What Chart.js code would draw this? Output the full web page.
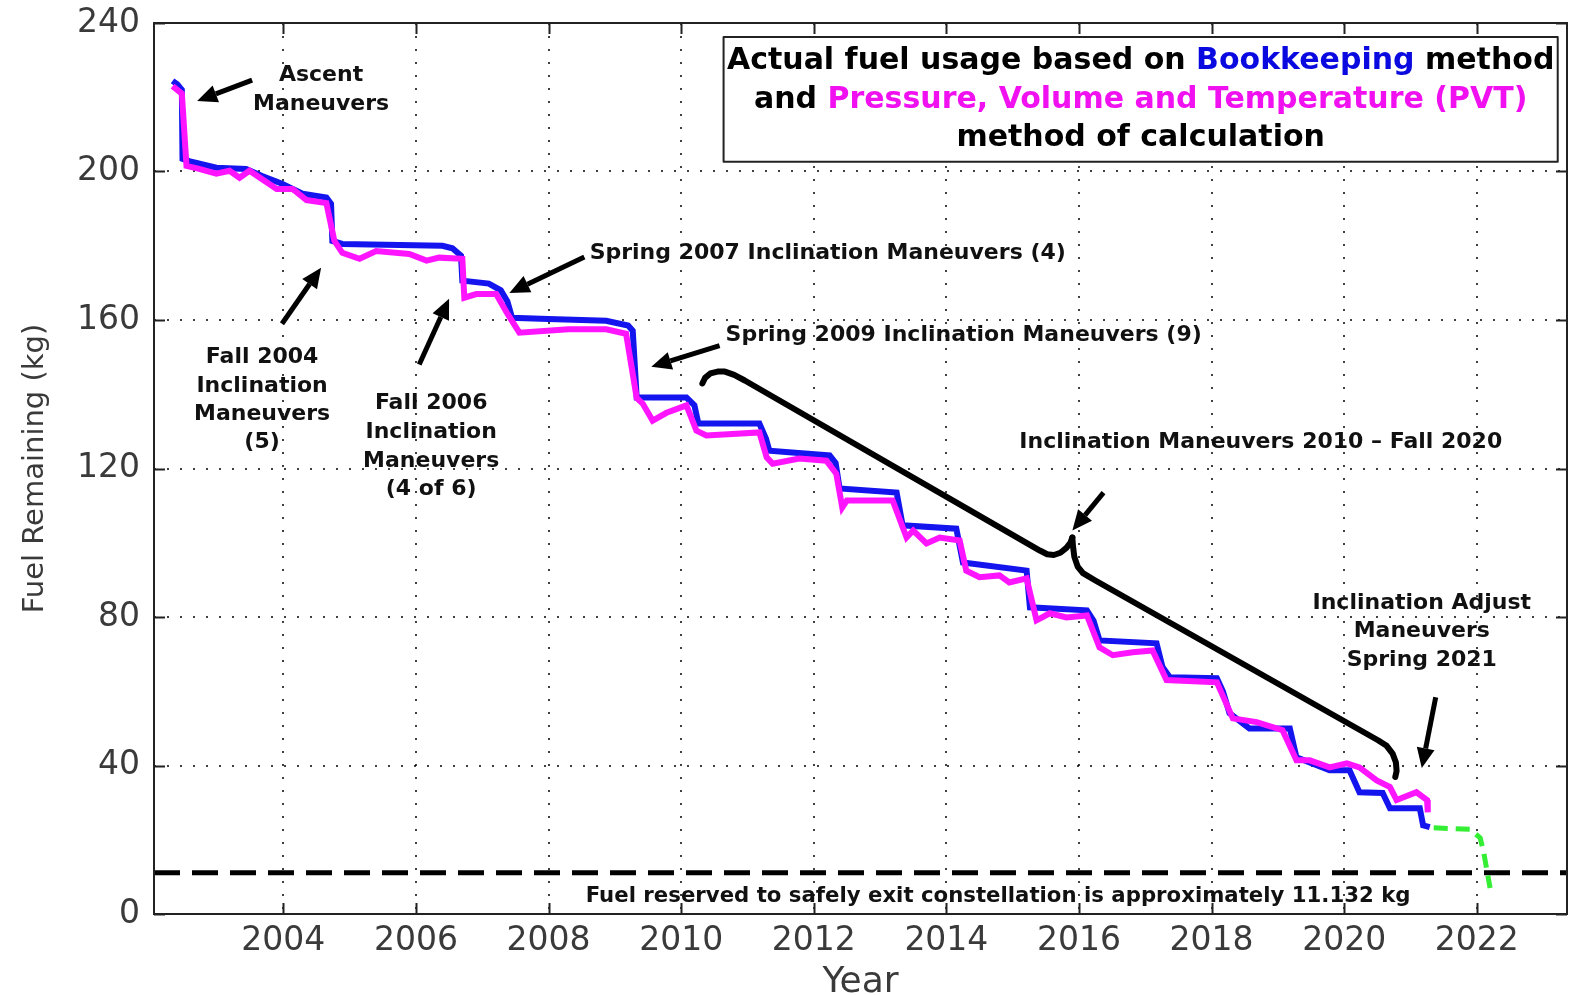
<!DOCTYPE html>
<html>
<head>
<meta charset="utf-8">
<script src="https://cdn.jsdelivr.net/npm/chart.js@4.4.0/dist/chart.umd.min.js"></script>
<style>
  html, body { margin: 0; padding: 0; background: #fff; }
  #wrap { width: 1570px; height: 995px; }
</style>
</head>
<body>
<div id="wrap"><canvas id="fuelChart" width="1570" height="995"></canvas></div>
<script>
// Bookkeeping method (blue)
const bkYear = [2002.33, 2002.40, 2002.47, 2002.48, 2002.58, 2002.99, 2003.44, 2003.68, 2003.98, 2004.29,
  2004.65, 2004.72, 2004.74, 2004.89, 2006.40, 2006.55, 2006.68, 2006.70, 2007.10, 2007.28,
  2007.38, 2007.45, 2008.00, 2008.87, 2009.20, 2009.27, 2009.33, 2010.08, 2010.20, 2010.26,
  2011.18, 2011.28, 2011.33, 2012.24, 2012.33, 2012.39, 2013.25, 2013.34, 2014.15, 2014.25,
  2015.21, 2015.26, 2016.12, 2016.22, 2016.31, 2017.17, 2017.26, 2017.37, 2018.08, 2018.17,
  2018.27, 2018.57, 2019.18, 2019.28, 2019.78, 2020.08, 2020.23, 2020.58, 2020.69, 2021.14,
  2021.19, 2021.29];
const bkFuel = [224.4, 223.5, 222.0, 203.4, 202.8, 201.0, 200.7, 198.8, 196.7, 194.0,
  193.0, 191.3, 181.3, 180.5, 180.0, 179.3, 177.3, 170.6, 169.8, 168.0,
  165.0, 160.6, 160.3, 159.8, 158.5, 157.1, 139.1, 139.1, 137.0, 132.1,
  132.1, 128.0, 124.8, 123.5, 121.5, 114.6, 113.5, 104.7, 103.8, 94.7,
  92.5, 82.6, 81.8, 79.0, 73.7, 72.9, 66.5, 63.8, 63.5, 60.0,
  54.1, 50.0, 50.0, 42.2, 38.7, 38.7, 32.8, 32.6, 28.5, 28.5,
  23.9, 23.4];

// Pressure, Volume and Temperature method (magenta)
const pvtYear = [2002.33, 2002.47, 2002.54, 2002.73, 2002.99, 2003.19, 2003.34, 2003.49, 2003.90, 2004.14,
  2004.35, 2004.65, 2004.77, 2004.89, 2005.15, 2005.40, 2005.90, 2006.16, 2006.35, 2006.70,
  2006.73, 2006.91, 2007.21, 2007.38, 2007.56, 2008.30, 2008.87, 2009.17, 2009.33, 2009.42,
  2009.57, 2009.78, 2010.08, 2010.23, 2010.38, 2011.18, 2011.29, 2011.38, 2011.78, 2012.19,
  2012.34, 2012.43, 2012.50, 2013.19, 2013.40, 2013.50, 2013.70, 2013.90, 2014.20, 2014.30,
  2014.50, 2014.80, 2014.95, 2015.21, 2015.36, 2015.56, 2015.81, 2016.12, 2016.31, 2016.51,
  2016.81, 2017.11, 2017.32, 2018.08, 2018.32, 2018.68, 2019.07, 2019.28, 2019.48, 2019.78,
  2020.04, 2020.23, 2020.49, 2020.69, 2020.79, 2021.09, 2021.25, 2021.26];
const pvtFuel = [223.0, 221.0, 201.5, 200.7, 199.4, 200.2, 198.3, 200.2, 195.3, 195.3,
  192.3, 191.5, 181.3, 178.1, 176.5, 178.6, 177.8, 176.0, 176.8, 176.5,
  166.0, 167.0, 167.0, 161.7, 156.6, 157.5, 157.5, 156.3, 139.0, 137.5,
  132.9, 135.0, 137.0, 130.2, 128.9, 129.7, 123.0, 121.3, 122.7, 122.1,
  118.6, 109.5, 111.4, 111.4, 101.4, 103.3, 99.8, 101.4, 100.6, 92.5,
  90.7, 91.2, 89.3, 90.4, 79.1, 81.0, 79.9, 80.4, 71.8, 69.7,
  70.5, 71.0, 63.0, 62.4, 52.7, 51.7, 49.5, 41.4, 41.4, 39.5,
  40.6, 39.5, 36.0, 34.2, 30.7, 32.8, 30.7, 27.4];

// Projected usage (green dashed)
const projYear = [2021.35, 2021.90, 2022.05, 2022.10, 2022.15, 2022.20];
const projFuel = [23.2, 22.8, 20.5, 17.0, 12.0, 7.0];

const reserveFuel = 11.132;
const xMin = 2002.05, xMax = 2023.36;
const xTicks = [2004, 2006, 2008, 2010, 2012, 2014, 2016, 2018, 2020, 2022];
const yTicks = [0, 40, 80, 120, 160, 200, 240];

// annotations, anchored in data units
const notes = [
  { lines: ['Ascent', 'Maneuvers'], x: 2004.57, y: 226.0, step: 29 },
  { lines: ['Spring 2007 Inclination Maneuvers (4)'], x: 2008.62, y: 178.1, align: 'left' },
  { lines: ['Spring 2009 Inclination Maneuvers (9)'], x: 2010.67, y: 156.0, align: 'left' },
  { lines: ['Fall 2004', 'Inclination', 'Maneuvers', '(5)'], x: 2003.68, y: 149.9, step: 28.3 },
  { lines: ['Fall 2006', 'Inclination', 'Maneuvers', '(4 of 6)'], x: 2006.23, y: 137.5, step: 28.7 },
  { lines: ['Inclination Maneuvers 2010 \u2013 Fall 2020'], x: 2015.10, y: 127.0, align: 'left' },
  { lines: ['Inclination Adjust', 'Maneuvers', 'Spring 2021'], x: 2021.17, y: 83.7, step: 28.5 }
];
const arrows = [
  [2003.53, 224.6, 2002.70, 219.0],
  [2008.54, 177.0, 2007.41, 167.3],
  [2010.58, 153.1, 2009.55, 147.4],
  [2003.98, 159.0, 2004.57, 174.1],
  [2006.05, 148.0, 2006.50, 165.7],
  [2016.37, 113.5, 2015.90, 103.3],
  [2021.38, 58.4, 2021.17, 39.3]
];
const braceUpper = [[2010.32, 142.9], [2010.36, 144.4], [2010.44, 145.6], [2010.55, 146.1], [2010.66, 146.1],
  [2010.80, 145.2], [2010.96, 143.7], [2015.41, 97.9], [2015.52, 96.9], [2015.62, 96.7], [2015.72, 97.3],
  [2015.81, 98.6], [2015.87, 100.0], [2015.90, 101.4]];
const braceLower = [[2015.90, 101.4], [2015.91, 99.0], [2015.93, 96.2], [2015.98, 93.6], [2016.06, 91.8],
  [2016.24, 89.9], [2020.51, 46.8], [2020.64, 45.3], [2020.73, 43.2], [2020.78, 40.8], [2020.79, 38.5], [2020.77, 36.9]];
const reserveNote = { text: 'Fuel reserved to safely exit constellation is approximately 11.132 kg', x1: 2008.56, x2: 2021.00, y: 4.8 };

const BLUE = '#1414ee';
const MAGENTA = '#ff14ff';
const GREEN = '#33ee33';

const legendBox = { x1: 2010.64, x2: 2023.22, y1: 236.2, y2: 202.6, cx: 2016.93 };
const legendLines = [
  { y: 229.8, parts: [['Actual fuel usage based on ', '#000'], ['Bookkeeping', '#0a0ae0'], [' method', '#000']] },
  { y: 219.3, parts: [['and ', '#000'], ['Pressure, Volume and Temperature (PVT)', '#f010f0']] },
  { y: 209.0, parts: [['method of calculation', '#000']] }
];

const toPoints = (xs, ys) => xs.map((v, i) => ({ x: v, y: ys[i] }));

function drawArrow(ctx, x1, y1, x2, y2) {
  const ang = Math.atan2(y2 - y1, x2 - x1);
  const headLen = 20, headW = 9;
  const bx = x2 - headLen * Math.cos(ang), by = y2 - headLen * Math.sin(ang);
  ctx.beginPath();
  ctx.moveTo(x1, y1);
  ctx.lineTo(bx, by);
  ctx.stroke();
  ctx.beginPath();
  ctx.moveTo(x2, y2);
  ctx.lineTo(bx + headW * Math.sin(ang), by - headW * Math.cos(ang));
  ctx.lineTo(bx - headW * Math.sin(ang), by + headW * Math.cos(ang));
  ctx.closePath();
  ctx.fill();
}

const annotationPlugin = {
  id: 'annotations',
  afterDraw(chart) {
    const { ctx, chartArea: a } = chart;
    const x = chart.scales.x, y = chart.scales.y;
    ctx.save();

    // frame with inward ticks (matlab style)
    ctx.strokeStyle = '#222';
    ctx.lineWidth = 2;
    ctx.strokeRect(a.left, a.top, a.right - a.left, a.bottom - a.top);
    ctx.beginPath();
    xTicks.forEach(v => {
      const px = Math.round(x.getPixelForValue(v)) + 0.5;
      ctx.moveTo(px, a.bottom); ctx.lineTo(px, a.bottom - 11);
      ctx.moveTo(px, a.top); ctx.lineTo(px, a.top + 11);
    });
    yTicks.forEach(v => {
      const py = Math.round(y.getPixelForValue(v)) + 0.5;
      ctx.moveTo(a.left, py); ctx.lineTo(a.left + 11, py);
      ctx.moveTo(a.right, py); ctx.lineTo(a.right - 11, py);
    });
    ctx.stroke();

    // curly brace
    ctx.strokeStyle = '#000';
    ctx.lineWidth = 6;
    ctx.lineJoin = 'round';
    ctx.lineCap = 'round';
    [braceUpper, braceLower].forEach(pts => {
      ctx.beginPath();
      pts.forEach((p, i) => {
        const px = x.getPixelForValue(p[0]), py = y.getPixelForValue(p[1]);
        if (i === 0) ctx.moveTo(px, py); else ctx.lineTo(px, py);
      });
      ctx.stroke();
    });

    // arrows
    ctx.lineWidth = 5;
    ctx.lineCap = 'butt';
    ctx.fillStyle = '#000';
    arrows.forEach(r => drawArrow(ctx,
      x.getPixelForValue(r[0]), y.getPixelForValue(r[1]),
      x.getPixelForValue(r[2]), y.getPixelForValue(r[3])));

    // text notes
    ctx.font = 'bold 22px "DejaVu Sans"';
    ctx.fillStyle = '#111';
    ctx.textBaseline = 'middle';
    notes.forEach(n => {
      ctx.textAlign = n.align || 'center';
      const px = x.getPixelForValue(n.x), py = y.getPixelForValue(n.y);
      n.lines.forEach((t, i) => ctx.fillText(t, px, py + i * (n.step || 0)));
    });

    // reserve note, squeezed to its span
    {
      const l = x.getPixelForValue(reserveNote.x1), r = x.getPixelForValue(reserveNote.x2);
      const py = y.getPixelForValue(reserveNote.y);
      ctx.font = 'bold 22px "DejaVu Sans"';
      const w = ctx.measureText(reserveNote.text).width;
      ctx.save();
      ctx.translate(l, py);
      ctx.scale((r - l) / w, 1);
      ctx.textAlign = 'left';
      ctx.fillText(reserveNote.text, 0, 0);
      ctx.restore();
    }

    // legend box
    const bl = x.getPixelForValue(legendBox.x1), br = x.getPixelForValue(legendBox.x2);
    const bt = y.getPixelForValue(legendBox.y1), bb = y.getPixelForValue(legendBox.y2);
    ctx.fillStyle = '#fff';
    ctx.fillRect(bl, bt, br - bl, bb - bt);
    ctx.strokeStyle = '#222';
    ctx.lineWidth = 2;
    ctx.strokeRect(bl, bt, br - bl, bb - bt);
    ctx.font = 'bold 30px "DejaVu Sans"';
    ctx.textAlign = 'left';
    const cx = x.getPixelForValue(legendBox.cx);
    legendLines.forEach(line => {
      const total = line.parts.reduce((s, p) => s + ctx.measureText(p[0]).width, 0);
      let px = cx - total / 2;
      const py = y.getPixelForValue(line.y);
      line.parts.forEach(p => {
        ctx.fillStyle = p[1];
        ctx.fillText(p[0], px, py);
        px += ctx.measureText(p[0]).width;
      });
    });

    ctx.restore();
  }
};

Chart.defaults.font.family = '"DejaVu Sans", sans-serif';
Chart.defaults.color = '#3a3a3a';

new Chart(document.getElementById('fuelChart'), {
  type: 'line',
  data: {
    datasets: [
      {
        label: 'PVT',
        data: toPoints(pvtYear, pvtFuel),
        borderColor: MAGENTA,
        borderWidth: 6,
        pointRadius: 0,
        tension: 0,
        fill: false
      },
      {
        label: 'Bookkeeping',
        data: toPoints(bkYear, bkFuel),
        borderColor: BLUE,
        borderWidth: 6,
        pointRadius: 0,
        tension: 0,
        fill: false
      },
      {
        label: 'Projection',
        data: toPoints(projYear, projFuel),
        borderColor: GREEN,
        borderWidth: 5,
        borderDash: [14, 8],
        pointRadius: 0,
        tension: 0,
        fill: false
      },
      {
        label: 'Reserve',
        data: [{ x: xMin, y: reserveFuel }, { x: xMax, y: reserveFuel }],
        borderColor: '#000',
        borderWidth: 5,
        borderDash: [26, 12],
        pointRadius: 0,
        fill: false
      }
    ]
  },
  options: {
    responsive: false,
    animation: false,
    layout: { padding: { top: 23, right: 3, left: 0, bottom: 0 } },
    plugins: {
      legend: { display: false },
      tooltip: { enabled: false }
    },
    scales: {
      x: {
        type: 'linear',
        min: xMin,
        max: xMax,
        afterBuildTicks: s => { s.ticks = xTicks.map(v => ({ value: v })); },
        afterFit: s => { s.height = 81; s.paddingLeft = 0; s.paddingRight = 0; },
        grid: { color: 'rgba(0,0,0,0.75)', lineWidth: 2, drawTicks: false },
        border: { display: false, dash: [2, 11] },
        ticks: {
          autoSkip: false,
          maxRotation: 0,
          padding: 8,
          font: { size: 33 },
          callback: v => String(v)
        },
        title: {
          display: true,
          text: 'Year',
          font: { size: 36, lineHeight: 1 },
          padding: { top: 0, bottom: -6 }
        }
      },
      y: {
        min: 0,
        max: 240,
        afterBuildTicks: s => { s.ticks = yTicks.map(v => ({ value: v })); },
        afterFit: s => { s.width = 154; s.paddingTop = 0; s.paddingBottom = 0; },
        grid: { color: 'rgba(0,0,0,0.75)', lineWidth: 2, drawTicks: false },
        border: { display: false, dash: [2, 11] },
        ticks: {
          padding: 14,
          font: { size: 33 },
          callback: v => String(v)
        },
        title: {
          display: true,
          text: 'Fuel Remaining (kg)',
          font: { size: 29, lineHeight: 1.2 },
          padding: { top: 18, bottom: 0 }
        }
      }
    }
  },
  plugins: [annotationPlugin]
});
</script>
</body>
</html>
